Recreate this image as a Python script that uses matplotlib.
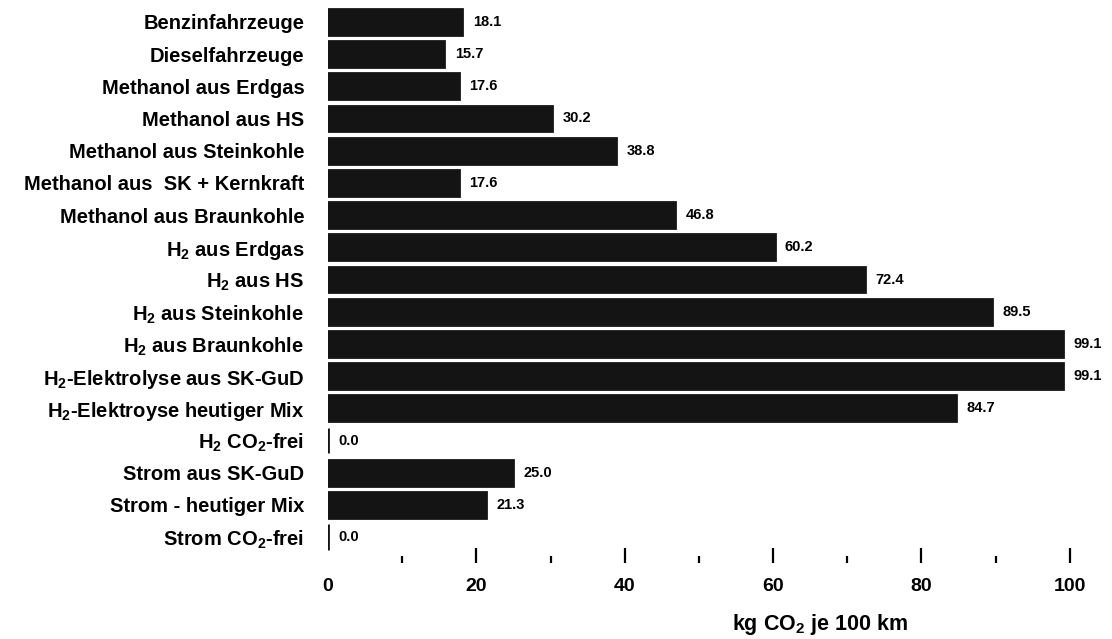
import matplotlib
matplotlib.use("Agg")
import matplotlib.pyplot as plt
import numpy as np

plt.rcParams['font.family'] = ['Liberation Sans', 'DejaVu Sans']
plt.rcParams['font.weight'] = 'bold'
plt.rcParams['mathtext.fontset'] = 'custom'
plt.rcParams['mathtext.rm'] = 'Liberation Sans:bold'
plt.rcParams['mathtext.it'] = 'Liberation Sans:bold'
plt.rcParams['mathtext.bf'] = 'Liberation Sans:bold'
plt.rcParams['mathtext.default'] = 'rm'

# ------------------------------------------------------------------
# Data
# ------------------------------------------------------------------

categories = [
    'Benzinfahrzeuge',
    'Dieselfahrzeuge',
    'Methanol aus Erdgas',
    'Methanol aus HS',
    'Methanol aus Steinkohle',
    'Methanol aus  SK + Kernkraft',
    'Methanol aus Braunkohle',
    r'H$_2$ aus Erdgas',
    r'H$_2$ aus HS',
    r'H$_2$ aus Steinkohle',
    r'H$_2$ aus Braunkohle',
    r'H$_2$-Elektrolyse aus SK-GuD',
    r'H$_2$-Elektroyse heutiger Mix',
    r'H$_2$ CO$_2$-frei',
    'Strom aus SK-GuD',
    'Strom - heutiger Mix',
    r'Strom CO$_2$-frei',
]

co2_values = [18.1, 15.7, 17.6, 30.2, 38.8, 17.6, 46.8, 60.2, 72.4,
              89.5, 99.1, 99.1, 84.7, 0.0, 25.0, 21.3, 0.0]

major_ticks = [0, 20, 40, 60, 80, 100]
minor_ticks = [10, 30, 50, 70, 90]

bar_color = '#141414'

# ------------------------------------------------------------------
# Plot
# ------------------------------------------------------------------

fig = plt.figure(figsize=(11.12, 6.39), dpi=100)
ax = fig.add_axes([0.295, 0.119, 0.667, 0.872])

y = np.arange(len(categories))
ax.barh(y, co2_values, height=0.8, color=bar_color,
        edgecolor=bar_color, linewidth=2.0)

for yi, v in zip(y, co2_values):
    ax.text(v + 1.4, yi, f'{v:.1f}', va='center', ha='left',
            fontsize=10.5, fontweight='bold', clip_on=False)

ax.set_yticks(y)
ax.set_yticklabels(categories, fontsize=14.5, fontweight='bold')
ax.set_ylim(16.8, -0.5)
ax.set_xlim(0, 100)

ax.set_xticks(major_ticks)
ax.set_xticklabels([str(t) for t in major_ticks], fontsize=14,
                   fontweight='bold')
ax.set_xticks(minor_ticks, minor=True)
ax.tick_params(axis='x', which='major', direction='in', length=11,
               width=1.6, pad=11)
ax.tick_params(axis='x', which='minor', direction='in', length=5,
               width=1.6)
ax.tick_params(axis='y', length=0, pad=17)
ax.xaxis.get_major_ticks()[0].tick1line.set_visible(False)

for side in ['top', 'right', 'left', 'bottom']:
    ax.spines[side].set_visible(False)

fig.text(0.737, 0.022, r'kg CO$_2$ je 100 km', ha='center', va='center',
         fontsize=15.5, fontweight='bold')

fig.savefig('out.png', dpi=100, facecolor='white')
